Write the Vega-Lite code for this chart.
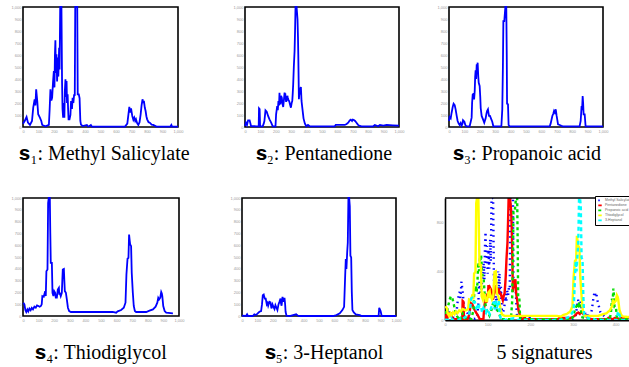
{
  "$schema": "https://vega.github.io/schema/vega-lite/v6.json",
  "padding": {"left": 10, "top": 2, "right": 0, "bottom": 0},
  "background": "white",
  "config": {
    "view": {"stroke": "black", "strokeWidth": 1.6},
    "axis": {"labelFontSize": 4, "labelColor": "#9a9a9a", "ticks": false, "domain": false, "grid": false, "labelPadding": 2, "labelOverlap": false, "labelFlush": false, "labelFont": "Liberation Sans"},
    "title": {"font": "Liberation Serif, DejaVu Serif", "fontSize": 20, "fontWeight": "normal", "color": "black", "orient": "bottom", "frame": "group"},
    "line": {"color": "#0000ff", "strokeWidth": 1.8},
    "legend": {"rowPadding": 0, "symbolSize": 12, "labelFontSize": 3.5, "padding": 2, "symbolStrokeWidth": 1.5, "clipHeight": 4.8}
  },
  "datasets": {
    "spectra": [
      {"sig":"Methyl Salicylate","x":0,"y":28},{"sig":"Methyl Salicylate","x":11,"y":50},{"sig":"Methyl Salicylate","x":23,"y":83},{"sig":"Methyl Salicylate","x":32,"y":36},{"sig":"Methyl Salicylate","x":45,"y":17},{"sig":"Methyl Salicylate","x":58,"y":50},{"sig":"Methyl Salicylate","x":66,"y":161},{"sig":"Methyl Salicylate","x":75,"y":231},{"sig":"Methyl Salicylate","x":80,"y":180},{"sig":"Methyl Salicylate","x":85,"y":314},{"sig":"Methyl Salicylate","x":92,"y":217},{"sig":"Methyl Salicylate","x":98,"y":106},{"sig":"Methyl Salicylate","x":109,"y":78},{"sig":"Methyl Salicylate","x":118,"y":50},{"sig":"Methyl Salicylate","x":124,"y":17},{"sig":"Methyl Salicylate","x":145,"y":6},{"sig":"Methyl Salicylate","x":167,"y":17},{"sig":"Methyl Salicylate","x":172,"y":150},{"sig":"Methyl Salicylate","x":177,"y":314},{"sig":"Methyl Salicylate","x":183,"y":220},{"sig":"Methyl Salicylate","x":188,"y":244},{"sig":"Methyl Salicylate","x":194,"y":380},{"sig":"Methyl Salicylate","x":199,"y":467},{"sig":"Methyl Salicylate","x":203,"y":330},{"sig":"Methyl Salicylate","x":206,"y":600},{"sig":"Methyl Salicylate","x":209,"y":722},{"sig":"Methyl Salicylate","x":212,"y":450},{"sig":"Methyl Salicylate","x":216,"y":606},{"sig":"Methyl Salicylate","x":220,"y":380},{"sig":"Methyl Salicylate","x":224,"y":578},{"sig":"Methyl Salicylate","x":228,"y":420},{"sig":"Methyl Salicylate","x":233,"y":661},{"sig":"Methyl Salicylate","x":236,"y":480},{"sig":"Methyl Salicylate","x":240,"y":1000},{"sig":"Methyl Salicylate","x":248,"y":1000},{"sig":"Methyl Salicylate","x":252,"y":369},{"sig":"Methyl Salicylate","x":255,"y":150},{"sig":"Methyl Salicylate","x":259,"y":78},{"sig":"Methyl Salicylate","x":263,"y":200},{"sig":"Methyl Salicylate","x":267,"y":78},{"sig":"Methyl Salicylate","x":270,"y":300},{"sig":"Methyl Salicylate","x":274,"y":397},{"sig":"Methyl Salicylate","x":277,"y":250},{"sig":"Methyl Salicylate","x":281,"y":383},{"sig":"Methyl Salicylate","x":284,"y":200},{"sig":"Methyl Salicylate","x":288,"y":272},{"sig":"Methyl Salicylate","x":291,"y":150},{"sig":"Methyl Salicylate","x":294,"y":64},{"sig":"Methyl Salicylate","x":300,"y":64},{"sig":"Methyl Salicylate","x":306,"y":100},{"sig":"Methyl Salicylate","x":310,"y":217},{"sig":"Methyl Salicylate","x":316,"y":150},{"sig":"Methyl Salicylate","x":320,"y":244},{"sig":"Methyl Salicylate","x":325,"y":200},{"sig":"Methyl Salicylate","x":330,"y":272},{"sig":"Methyl Salicylate","x":334,"y":260},{"sig":"Methyl Salicylate","x":337,"y":1000},{"sig":"Methyl Salicylate","x":350,"y":1000},{"sig":"Methyl Salicylate","x":353,"y":272},{"sig":"Methyl Salicylate","x":360,"y":272},{"sig":"Methyl Salicylate","x":365,"y":240},{"sig":"Methyl Salicylate","x":370,"y":50},{"sig":"Methyl Salicylate","x":374,"y":20},{"sig":"Methyl Salicylate","x":385,"y":8},{"sig":"Methyl Salicylate","x":412,"y":17},{"sig":"Methyl Salicylate","x":420,"y":5},{"sig":"Methyl Salicylate","x":429,"y":8},{"sig":"Methyl Salicylate","x":438,"y":17},{"sig":"Methyl Salicylate","x":445,"y":3},{"sig":"Methyl Salicylate","x":658,"y":3},{"sig":"Methyl Salicylate","x":673,"y":28},{"sig":"Methyl Salicylate","x":686,"y":167},{"sig":"Methyl Salicylate","x":690,"y":120},{"sig":"Methyl Salicylate","x":697,"y":156},{"sig":"Methyl Salicylate","x":705,"y":92},{"sig":"Methyl Salicylate","x":712,"y":60},{"sig":"Methyl Salicylate","x":718,"y":78},{"sig":"Methyl Salicylate","x":724,"y":50},{"sig":"Methyl Salicylate","x":729,"y":64},{"sig":"Methyl Salicylate","x":737,"y":30},{"sig":"Methyl Salicylate","x":744,"y":17},{"sig":"Methyl Salicylate","x":752,"y":40},{"sig":"Methyl Salicylate","x":759,"y":106},{"sig":"Methyl Salicylate","x":765,"y":180},{"sig":"Methyl Salicylate","x":771,"y":231},{"sig":"Methyl Salicylate","x":776,"y":200},{"sig":"Methyl Salicylate","x":780,"y":217},{"sig":"Methyl Salicylate","x":786,"y":160},{"sig":"Methyl Salicylate","x":791,"y":133},{"sig":"Methyl Salicylate","x":796,"y":90},{"sig":"Methyl Salicylate","x":801,"y":64},{"sig":"Methyl Salicylate","x":810,"y":40},{"sig":"Methyl Salicylate","x":818,"y":36},{"sig":"Methyl Salicylate","x":830,"y":20},{"sig":"Methyl Salicylate","x":840,"y":17},{"sig":"Methyl Salicylate","x":861,"y":3},{"sig":"Methyl Salicylate","x":950,"y":3},{"sig":"Methyl Salicylate","x":957,"y":17},{"sig":"Methyl Salicylate","x":962,"y":3},{"sig":"Methyl Salicylate","x":1000,"y":3},

      {"sig":"Pentanedione","x":0,"y":8},{"sig":"Pentanedione","x":6,"y":36},{"sig":"Pentanedione","x":13,"y":17},{"sig":"Pentanedione","x":20,"y":56},{"sig":"Pentanedione","x":30,"y":56},{"sig":"Pentanedione","x":36,"y":25},{"sig":"Pentanedione","x":39,"y":8},{"sig":"Pentanedione","x":76,"y":6},{"sig":"Pentanedione","x":89,"y":6},{"sig":"Pentanedione","x":91,"y":156},{"sig":"Pentanedione","x":95,"y":150},{"sig":"Pentanedione","x":98,"y":6},{"sig":"Pentanedione","x":115,"y":6},{"sig":"Pentanedione","x":122,"y":30},{"sig":"Pentanedione","x":126,"y":50},{"sig":"Pentanedione","x":133,"y":139},{"sig":"Pentanedione","x":141,"y":128},{"sig":"Pentanedione","x":150,"y":92},{"sig":"Pentanedione","x":159,"y":64},{"sig":"Pentanedione","x":170,"y":36},{"sig":"Pentanedione","x":180,"y":6},{"sig":"Pentanedione","x":198,"y":6},{"sig":"Pentanedione","x":202,"y":106},{"sig":"Pentanedione","x":209,"y":175},{"sig":"Pentanedione","x":213,"y":140},{"sig":"Pentanedione","x":217,"y":217},{"sig":"Pentanedione","x":221,"y":180},{"sig":"Pentanedione","x":224,"y":286},{"sig":"Pentanedione","x":227,"y":200},{"sig":"Pentanedione","x":230,"y":189},{"sig":"Pentanedione","x":234,"y":260},{"sig":"Pentanedione","x":239,"y":244},{"sig":"Pentanedione","x":243,"y":200},{"sig":"Pentanedione","x":248,"y":167},{"sig":"Pentanedione","x":253,"y":230},{"sig":"Pentanedione","x":257,"y":286},{"sig":"Pentanedione","x":260,"y":250},{"sig":"Pentanedione","x":263,"y":258},{"sig":"Pentanedione","x":267,"y":210},{"sig":"Pentanedione","x":272,"y":231},{"sig":"Pentanedione","x":275,"y":260},{"sig":"Pentanedione","x":278,"y":244},{"sig":"Pentanedione","x":283,"y":220},{"sig":"Pentanedione","x":287,"y":217},{"sig":"Pentanedione","x":292,"y":190},{"sig":"Pentanedione","x":298,"y":161},{"sig":"Pentanedione","x":303,"y":200},{"sig":"Pentanedione","x":307,"y":217},{"sig":"Pentanedione","x":310,"y":280},{"sig":"Pentanedione","x":313,"y":356},{"sig":"Pentanedione","x":317,"y":500},{"sig":"Pentanedione","x":322,"y":633},{"sig":"Pentanedione","x":325,"y":800},{"sig":"Pentanedione","x":328,"y":1000},{"sig":"Pentanedione","x":335,"y":1000},{"sig":"Pentanedione","x":341,"y":897},{"sig":"Pentanedione","x":344,"y":750},{"sig":"Pentanedione","x":346,"y":606},{"sig":"Pentanedione","x":350,"y":231},{"sig":"Pentanedione","x":354,"y":300},{"sig":"Pentanedione","x":357,"y":272},{"sig":"Pentanedione","x":360,"y":320},{"sig":"Pentanedione","x":363,"y":333},{"sig":"Pentanedione","x":367,"y":217},{"sig":"Pentanedione","x":372,"y":161},{"sig":"Pentanedione","x":380,"y":72},{"sig":"Pentanedione","x":389,"y":28},{"sig":"Pentanedione","x":398,"y":6},{"sig":"Pentanedione","x":409,"y":17},{"sig":"Pentanedione","x":420,"y":6},{"sig":"Pentanedione","x":583,"y":6},{"sig":"Pentanedione","x":589,"y":17},{"sig":"Pentanedione","x":648,"y":17},{"sig":"Pentanedione","x":660,"y":25},{"sig":"Pentanedione","x":670,"y":36},{"sig":"Pentanedione","x":680,"y":55},{"sig":"Pentanedione","x":687,"y":61},{"sig":"Pentanedione","x":695,"y":50},{"sig":"Pentanedione","x":700,"y":62},{"sig":"Pentanedione","x":707,"y":58},{"sig":"Pentanedione","x":715,"y":50},{"sig":"Pentanedione","x":724,"y":36},{"sig":"Pentanedione","x":733,"y":20},{"sig":"Pentanedione","x":741,"y":11},{"sig":"Pentanedione","x":757,"y":6},{"sig":"Pentanedione","x":833,"y":6},{"sig":"Pentanedione","x":843,"y":17},{"sig":"Pentanedione","x":865,"y":6},{"sig":"Pentanedione","x":876,"y":17},{"sig":"Pentanedione","x":898,"y":11},{"sig":"Pentanedione","x":920,"y":17},{"sig":"Pentanedione","x":960,"y":14},{"sig":"Pentanedione","x":1000,"y":11},

      {"sig":"Propanoic acid","x":0,"y":50},{"sig":"Propanoic acid","x":4,"y":83},{"sig":"Propanoic acid","x":11,"y":72},{"sig":"Propanoic acid","x":17,"y":119},{"sig":"Propanoic acid","x":24,"y":167},{"sig":"Propanoic acid","x":30,"y":194},{"sig":"Propanoic acid","x":37,"y":183},{"sig":"Propanoic acid","x":43,"y":147},{"sig":"Propanoic acid","x":50,"y":92},{"sig":"Propanoic acid","x":56,"y":50},{"sig":"Propanoic acid","x":63,"y":28},{"sig":"Propanoic acid","x":69,"y":17},{"sig":"Propanoic acid","x":76,"y":33},{"sig":"Propanoic acid","x":82,"y":11},{"sig":"Propanoic acid","x":88,"y":30},{"sig":"Propanoic acid","x":91,"y":56},{"sig":"Propanoic acid","x":100,"y":44},{"sig":"Propanoic acid","x":106,"y":17},{"sig":"Propanoic acid","x":113,"y":6},{"sig":"Propanoic acid","x":134,"y":6},{"sig":"Propanoic acid","x":141,"y":44},{"sig":"Propanoic acid","x":147,"y":78},{"sig":"Propanoic acid","x":150,"y":200},{"sig":"Propanoic acid","x":154,"y":272},{"sig":"Propanoic acid","x":160,"y":278},{"sig":"Propanoic acid","x":163,"y":230},{"sig":"Propanoic acid","x":167,"y":300},{"sig":"Propanoic acid","x":170,"y":420},{"sig":"Propanoic acid","x":173,"y":472},{"sig":"Propanoic acid","x":176,"y":400},{"sig":"Propanoic acid","x":180,"y":522},{"sig":"Propanoic acid","x":183,"y":480},{"sig":"Propanoic acid","x":186,"y":536},{"sig":"Propanoic acid","x":190,"y":420},{"sig":"Propanoic acid","x":193,"y":369},{"sig":"Propanoic acid","x":199,"y":342},{"sig":"Propanoic acid","x":203,"y":250},{"sig":"Propanoic acid","x":206,"y":156},{"sig":"Propanoic acid","x":212,"y":92},{"sig":"Propanoic acid","x":221,"y":64},{"sig":"Propanoic acid","x":229,"y":36},{"sig":"Propanoic acid","x":238,"y":72},{"sig":"Propanoic acid","x":243,"y":110},{"sig":"Propanoic acid","x":247,"y":133},{"sig":"Propanoic acid","x":253,"y":147},{"sig":"Propanoic acid","x":256,"y":120},{"sig":"Propanoic acid","x":260,"y":92},{"sig":"Propanoic acid","x":266,"y":92},{"sig":"Propanoic acid","x":275,"y":64},{"sig":"Propanoic acid","x":281,"y":44},{"sig":"Propanoic acid","x":288,"y":6},{"sig":"Propanoic acid","x":340,"y":6},{"sig":"Propanoic acid","x":346,"y":147},{"sig":"Propanoic acid","x":350,"y":500},{"sig":"Propanoic acid","x":353,"y":883},{"sig":"Propanoic acid","x":359,"y":883},{"sig":"Propanoic acid","x":363,"y":950},{"sig":"Propanoic acid","x":366,"y":1000},{"sig":"Propanoic acid","x":372,"y":1000},{"sig":"Propanoic acid","x":375,"y":600},{"sig":"Propanoic acid","x":377,"y":194},{"sig":"Propanoic acid","x":383,"y":189},{"sig":"Propanoic acid","x":387,"y":17},{"sig":"Propanoic acid","x":394,"y":6},{"sig":"Propanoic acid","x":654,"y":6},{"sig":"Propanoic acid","x":660,"y":28},{"sig":"Propanoic acid","x":671,"y":92},{"sig":"Propanoic acid","x":677,"y":110},{"sig":"Propanoic acid","x":682,"y":133},{"sig":"Propanoic acid","x":687,"y":120},{"sig":"Propanoic acid","x":693,"y":147},{"sig":"Propanoic acid","x":699,"y":92},{"sig":"Propanoic acid","x":708,"y":22},{"sig":"Propanoic acid","x":719,"y":17},{"sig":"Propanoic acid","x":730,"y":10},{"sig":"Propanoic acid","x":740,"y":6},{"sig":"Propanoic acid","x":848,"y":6},{"sig":"Propanoic acid","x":855,"y":50},{"sig":"Propanoic acid","x":861,"y":175},{"sig":"Propanoic acid","x":864,"y":140},{"sig":"Propanoic acid","x":868,"y":258},{"sig":"Propanoic acid","x":871,"y":200},{"sig":"Propanoic acid","x":874,"y":106},{"sig":"Propanoic acid","x":881,"y":106},{"sig":"Propanoic acid","x":887,"y":6},{"sig":"Propanoic acid","x":1000,"y":6},

      {"sig":"Thiodiglycol","x":2,"y":113},{"sig":"Thiodiglycol","x":9,"y":99},{"sig":"Thiodiglycol","x":15,"y":51},{"sig":"Thiodiglycol","x":21,"y":34},{"sig":"Thiodiglycol","x":28,"y":56},{"sig":"Thiodiglycol","x":34,"y":39},{"sig":"Thiodiglycol","x":41,"y":62},{"sig":"Thiodiglycol","x":49,"y":48},{"sig":"Thiodiglycol","x":56,"y":68},{"sig":"Thiodiglycol","x":64,"y":56},{"sig":"Thiodiglycol","x":73,"y":79},{"sig":"Thiodiglycol","x":82,"y":70},{"sig":"Thiodiglycol","x":90,"y":90},{"sig":"Thiodiglycol","x":99,"y":85},{"sig":"Thiodiglycol","x":107,"y":79},{"sig":"Thiodiglycol","x":115,"y":85},{"sig":"Thiodiglycol","x":120,"y":99},{"sig":"Thiodiglycol","x":124,"y":169},{"sig":"Thiodiglycol","x":133,"y":163},{"sig":"Thiodiglycol","x":142,"y":211},{"sig":"Thiodiglycol","x":146,"y":169},{"sig":"Thiodiglycol","x":150,"y":380},{"sig":"Thiodiglycol","x":157,"y":394},{"sig":"Thiodiglycol","x":161,"y":958},{"sig":"Thiodiglycol","x":165,"y":1000},{"sig":"Thiodiglycol","x":172,"y":1000},{"sig":"Thiodiglycol","x":175,"y":700},{"sig":"Thiodiglycol","x":178,"y":451},{"sig":"Thiodiglycol","x":185,"y":451},{"sig":"Thiodiglycol","x":189,"y":197},{"sig":"Thiodiglycol","x":195,"y":169},{"sig":"Thiodiglycol","x":200,"y":211},{"sig":"Thiodiglycol","x":206,"y":197},{"sig":"Thiodiglycol","x":210,"y":155},{"sig":"Thiodiglycol","x":217,"y":155},{"sig":"Thiodiglycol","x":223,"y":225},{"sig":"Thiodiglycol","x":230,"y":239},{"sig":"Thiodiglycol","x":233,"y":180},{"sig":"Thiodiglycol","x":236,"y":197},{"sig":"Thiodiglycol","x":242,"y":169},{"sig":"Thiodiglycol","x":249,"y":197},{"sig":"Thiodiglycol","x":252,"y":300},{"sig":"Thiodiglycol","x":255,"y":394},{"sig":"Thiodiglycol","x":262,"y":399},{"sig":"Thiodiglycol","x":265,"y":300},{"sig":"Thiodiglycol","x":268,"y":211},{"sig":"Thiodiglycol","x":275,"y":197},{"sig":"Thiodiglycol","x":281,"y":141},{"sig":"Thiodiglycol","x":288,"y":70},{"sig":"Thiodiglycol","x":296,"y":42},{"sig":"Thiodiglycol","x":307,"y":34},{"sig":"Thiodiglycol","x":425,"y":34},{"sig":"Thiodiglycol","x":575,"y":34},{"sig":"Thiodiglycol","x":597,"y":28},{"sig":"Thiodiglycol","x":607,"y":39},{"sig":"Thiodiglycol","x":629,"y":51},{"sig":"Thiodiglycol","x":646,"y":70},{"sig":"Thiodiglycol","x":657,"y":113},{"sig":"Thiodiglycol","x":663,"y":352},{"sig":"Thiodiglycol","x":670,"y":485},{"sig":"Thiodiglycol","x":676,"y":493},{"sig":"Thiodiglycol","x":680,"y":690},{"sig":"Thiodiglycol","x":684,"y":640},{"sig":"Thiodiglycol","x":687,"y":606},{"sig":"Thiodiglycol","x":690,"y":600},{"sig":"Thiodiglycol","x":693,"y":592},{"sig":"Thiodiglycol","x":697,"y":366},{"sig":"Thiodiglycol","x":704,"y":197},{"sig":"Thiodiglycol","x":710,"y":85},{"sig":"Thiodiglycol","x":717,"y":42},{"sig":"Thiodiglycol","x":725,"y":34},{"sig":"Thiodiglycol","x":790,"y":34},{"sig":"Thiodiglycol","x":811,"y":45},{"sig":"Thiodiglycol","x":833,"y":56},{"sig":"Thiodiglycol","x":850,"y":79},{"sig":"Thiodiglycol","x":861,"y":113},{"sig":"Thiodiglycol","x":867,"y":155},{"sig":"Thiodiglycol","x":873,"y":141},{"sig":"Thiodiglycol","x":880,"y":155},{"sig":"Thiodiglycol","x":883,"y":180},{"sig":"Thiodiglycol","x":886,"y":203},{"sig":"Thiodiglycol","x":890,"y":190},{"sig":"Thiodiglycol","x":893,"y":169},{"sig":"Thiodiglycol","x":899,"y":85},{"sig":"Thiodiglycol","x":908,"y":42},{"sig":"Thiodiglycol","x":918,"y":28},{"sig":"Thiodiglycol","x":961,"y":23},

      {"sig":"3-Heptanol","x":0,"y":3},{"sig":"3-Heptanol","x":26,"y":0},{"sig":"3-Heptanol","x":33,"y":14},{"sig":"3-Heptanol","x":39,"y":0},{"sig":"3-Heptanol","x":70,"y":0},{"sig":"3-Heptanol","x":80,"y":14},{"sig":"3-Heptanol","x":91,"y":8},{"sig":"3-Heptanol","x":102,"y":22},{"sig":"3-Heptanol","x":113,"y":36},{"sig":"3-Heptanol","x":124,"y":42},{"sig":"3-Heptanol","x":130,"y":100},{"sig":"3-Heptanol","x":135,"y":176},{"sig":"3-Heptanol","x":141,"y":182},{"sig":"3-Heptanol","x":145,"y":160},{"sig":"3-Heptanol","x":148,"y":148},{"sig":"3-Heptanol","x":154,"y":148},{"sig":"3-Heptanol","x":161,"y":98},{"sig":"3-Heptanol","x":166,"y":110},{"sig":"3-Heptanol","x":170,"y":87},{"sig":"3-Heptanol","x":178,"y":120},{"sig":"3-Heptanol","x":185,"y":115},{"sig":"3-Heptanol","x":191,"y":64},{"sig":"3-Heptanol","x":198,"y":98},{"sig":"3-Heptanol","x":204,"y":78},{"sig":"3-Heptanol","x":211,"y":59},{"sig":"3-Heptanol","x":217,"y":92},{"sig":"3-Heptanol","x":224,"y":70},{"sig":"3-Heptanol","x":230,"y":50},{"sig":"3-Heptanol","x":237,"y":98},{"sig":"3-Heptanol","x":243,"y":120},{"sig":"3-Heptanol","x":250,"y":148},{"sig":"3-Heptanol","x":253,"y":110},{"sig":"3-Heptanol","x":257,"y":87},{"sig":"3-Heptanol","x":263,"y":162},{"sig":"3-Heptanol","x":267,"y":140},{"sig":"3-Heptanol","x":270,"y":120},{"sig":"3-Heptanol","x":276,"y":154},{"sig":"3-Heptanol","x":280,"y":100},{"sig":"3-Heptanol","x":283,"y":36},{"sig":"3-Heptanol","x":289,"y":3},{"sig":"3-Heptanol","x":309,"y":0},{"sig":"3-Heptanol","x":352,"y":14},{"sig":"3-Heptanol","x":363,"y":3},{"sig":"3-Heptanol","x":374,"y":0},{"sig":"3-Heptanol","x":591,"y":0},{"sig":"3-Heptanol","x":613,"y":8},{"sig":"3-Heptanol","x":635,"y":22},{"sig":"3-Heptanol","x":652,"y":50},{"sig":"3-Heptanol","x":663,"y":78},{"sig":"3-Heptanol","x":670,"y":344},{"sig":"3-Heptanol","x":674,"y":483},{"sig":"3-Heptanol","x":678,"y":399},{"sig":"3-Heptanol","x":683,"y":539},{"sig":"3-Heptanol","x":687,"y":623},{"sig":"3-Heptanol","x":691,"y":1000},{"sig":"3-Heptanol","x":696,"y":1000},{"sig":"3-Heptanol","x":700,"y":930},{"sig":"3-Heptanol","x":704,"y":511},{"sig":"3-Heptanol","x":709,"y":497},{"sig":"3-Heptanol","x":713,"y":204},{"sig":"3-Heptanol","x":717,"y":50},{"sig":"3-Heptanol","x":726,"y":31},{"sig":"3-Heptanol","x":739,"y":14},{"sig":"3-Heptanol","x":765,"y":8},{"sig":"3-Heptanol","x":776,"y":0},{"sig":"3-Heptanol","x":887,"y":0},{"sig":"3-Heptanol","x":891,"y":70},{"sig":"3-Heptanol","x":896,"y":55},{"sig":"3-Heptanol","x":900,"y":42},{"sig":"3-Heptanol","x":907,"y":0},{"sig":"3-Heptanol","x":1000,"y":0}
    ]
  },
  "spacing": 28,
  "resolve": {"scale": {"color": "independent", "strokeDash": "independent"}, "legend": {"color": "independent", "strokeDash": "independent"}},
  "vconcat": [
    {
      "bounds": "flush",
      "spacing": 67,
      "hconcat": [
        {
          "width": 155, "height": 120,
          "data": {"name": "spectra"},
          "transform": [{"filter": "datum.sig === 'Methyl Salicylate'"}],
          "mark": "line",
          "encoding": {
            "x": {"field": "x", "type": "quantitative", "scale": {"domain": [0, 1000], "nice": false}, "axis": {"title": null, "values": [0,100,200,300,400,500,600,700,800,900,1000]}},
            "y": {"field": "y", "type": "quantitative", "scale": {"domain": [0, 1000], "nice": false}, "axis": {"title": null, "values": [0,100,200,300,400,500,600,700,800,900,1000]}}
          },
          "title": {"text": "𝐬₁: Methyl Salicylate", "offset": 11, "dx": 4}
        },
        {
          "bounds": "flush",
          "spacing": 50,
          "hconcat": [
            {
              "width": 154, "height": 120,
              "data": {"name": "spectra"},
              "transform": [{"filter": "datum.sig === 'Pentanedione'"}],
              "mark": "line",
              "encoding": {
                "x": {"field": "x", "type": "quantitative", "scale": {"domain": [0, 1000], "nice": false}, "axis": {"title": null, "values": [0,100,200,300,400,500,600,700,800,900,1000]}},
                "y": {"field": "y", "type": "quantitative", "scale": {"domain": [0, 1000], "nice": false}, "axis": {"title": null, "values": [0,100,200,300,400,500,600,700,800,900,1000]}}
              },
              "title": {"text": "𝐬₂: Pentanedione", "offset": 11, "dx": 2}
            },
            {
              "width": 154, "height": 120,
              "data": {"name": "spectra"},
              "transform": [{"filter": "datum.sig === 'Propanoic acid'"}],
              "mark": "line",
              "encoding": {
                "x": {"field": "x", "type": "quantitative", "scale": {"domain": [0, 1000], "nice": false}, "axis": {"title": null, "values": [0,100,200,300,400,500,600,700,800,900,1000]}},
                "y": {"field": "y", "type": "quantitative", "scale": {"domain": [0, 1000], "nice": false}, "axis": {"title": null, "values": [0,100,200,300,400,500,600,700,800,900,1000]}}
              },
              "title": {"text": "𝐬₃: Propanoic acid", "offset": 11, "dx": 1}
            }
          ]
        }
      ]
    },
    {
      "bounds": "flush",
      "spacing": 63,
      "resolve": {"scale": {"color": "independent", "strokeDash": "independent"}, "legend": {"color": "independent", "strokeDash": "independent"}},
      "hconcat": [
        {
          "width": 156, "height": 118,
          "data": {"name": "spectra"},
          "transform": [{"filter": "datum.sig === 'Thiodiglycol'"}],
          "mark": "line",
          "encoding": {
            "x": {"field": "x", "type": "quantitative", "scale": {"domain": [0, 1000], "nice": false}, "axis": {"title": null, "values": [0,100,200,300,400,500,600,700,800,900,1000]}},
            "y": {"field": "y", "type": "quantitative", "scale": {"domain": [0, 1000], "nice": false}, "axis": {"title": null, "values": [0,100,200,300,400,500,600,700,800,900,1000]}}
          },
          "title": {"text": "𝐬₄: Thiodiglycol", "offset": 21, "dx": 0}
        },
        {
          "bounds": "flush",
          "spacing": 49,
          "resolve": {"scale": {"color": "independent", "strokeDash": "independent"}, "legend": {"color": "independent", "strokeDash": "independent"}},
          "hconcat": [
            {
              "width": 154, "height": 118,
              "data": {"name": "spectra"},
              "transform": [{"filter": "datum.sig === '3-Heptanol'"}],
              "mark": "line",
              "encoding": {
                "x": {"field": "x", "type": "quantitative", "scale": {"domain": [0, 1000], "nice": false}, "axis": {"title": null, "values": [0,100,200,300,400,500,600,700,800,900,1000]}},
                "y": {"field": "y", "type": "quantitative", "scale": {"domain": [0, 1000], "nice": false}, "axis": {"title": null, "values": [0,100,200,300,400,500,600,700,800,900,1000]}}
              },
              "title": {"text": "𝐬₅: 3-Heptanol", "offset": 21, "dx": 5}
            },
            {
              "width": 187, "height": 122,
              "view": {"stroke": null},
              "title": {"text": "5 signatures", "offset": 17, "dx": 6},
              "layer": [
                {
                  "data": {"name": "spectra"},
                  "mark": {"type": "line", "strokeWidth": 2.4, "clip": true},
                  "encoding": {
                    "x": {"field": "x", "type": "quantitative", "scale": {"domain": [0, 964], "nice": false, "zero": false}, "axis": {"title": null, "values": [0, 220, 440, 660, 880], "labelExpr": "format(datum.value / 2.2, 'd')", "domain": true, "domainColor": "black", "domainWidth": 1.8}},
                    "y": {"field": "y", "type": "quantitative", "scale": {"domain": [0, 1000], "nice": false}, "axis": {"title": null, "values": [0, 200, 400, 600, 800, 1000], "domain": true, "domainColor": "black", "domainWidth": 1.6}},
                    "color": {"field": "sig", "type": "nominal", "scale": {"domain": ["Methyl Salicylate", "Pentanedione", "Propanoic acid", "Thiodiglycol", "3-Heptanol"], "range": ["#0000ff", "#ff0000", "#00dd00", "#ffff00", "#00ffff"]}, "legend": {"title": null, "orient": "top-right", "offset": -2, "strokeColor": "black", "fillColor": "white", "labelColor": "#666", "symbolType": "stroke", "labelOffset": 2}},
                    "strokeDash": {"field": "sig", "type": "nominal", "scale": {"domain": ["Methyl Salicylate", "Pentanedione", "Propanoic acid", "Thiodiglycol", "3-Heptanol"], "range": [[1.5, 4], [1, 0], [3, 3], [1, 0], [4, 3]]}, "legend": {"title": null, "orient": "top-right", "offset": -2, "strokeColor": "black", "fillColor": "white", "labelColor": "#666", "symbolType": "stroke", "labelOffset": 2}}
                  }
                },
                {
                  "data": {"values": [{}]},
                  "mark": {"type": "rule", "color": "black", "strokeWidth": 1.6},
                  "encoding": {"y": {"datum": 1000}}
                }
              ]
            }
          ]
        }
      ]
    }
  ]
}
